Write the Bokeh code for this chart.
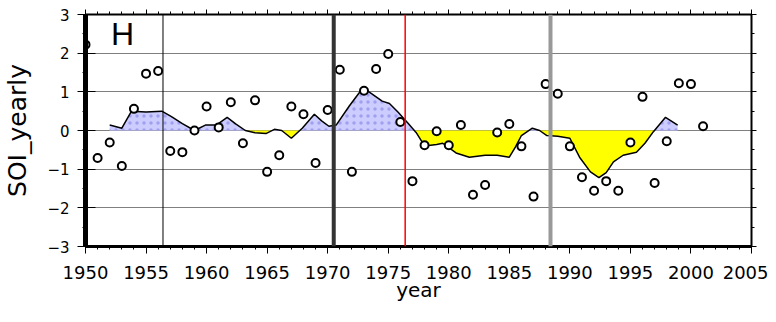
from bokeh.plotting import figure
from bokeh.models import (Range1d, LinearAxis, SingleIntervalTicker, Span, Label,
                          CustomJSTickFormatter)
from bokeh.embed import file_html
from bokeh.resources import INLINE
import numpy as np

# yearly SOI values (open circles)
years = list(range(1950, 2002))
soi = [2.22, -0.71, -0.31, -0.92, 0.56, 1.47, 1.54, -0.53, -0.56, 0.0,
       0.62, 0.08, 0.73, -0.33, 0.78, -1.07, -0.64, 0.62, 0.42, -0.84,
       0.53, 1.57, -1.07, 1.03, 1.59, 1.98, 0.22, -1.31, -0.38, -0.02,
       -0.38, 0.14, -1.66, -1.41, -0.05, 0.17, -0.41, -1.71, 1.2, 0.95,
       -0.41, -1.21, -1.56, -1.31, -1.56, -0.31, 0.87, -1.36, -0.28, 1.22,
       1.2, 0.11]

# smoothed curve
smooth_x = [1952.0, 1953.0, 1953.8, 1955.0, 1956.3, 1957.1, 1958.0, 1959.0, 1959.9,
            1960.8, 1961.7, 1962.4, 1963.2, 1964.0, 1964.9, 1965.6, 1966.2, 1967.0,
            1967.9, 1968.9, 1969.5, 1970.1, 1970.7, 1971.8, 1972.9, 1973.5, 1974.5,
            1975.1, 1975.8, 1976.6, 1977.3, 1978.0, 1979.0, 1979.5, 1980.6, 1981.7,
            1983.0, 1984.0, 1985.0, 1985.5, 1986.0, 1986.9, 1987.5, 1988.1, 1989.0,
            1990.0, 1990.8, 1991.7, 1992.4, 1993.0, 1993.6, 1994.4, 1995.5, 1996.2,
            1996.9, 1997.9, 1998.9]
smooth_y = [0.14, 0.06, 0.50, 0.48, 0.50, 0.36, 0.18, 0.0, 0.14,
            0.14, 0.34, 0.17, 0.0, -0.06, -0.08, 0.03, 0.0, -0.2,
            0.06, 0.42, 0.25, 0.11, 0.14, 0.64, 1.1, 0.98, 0.76,
            0.7, 0.48, 0.2, -0.05, -0.4, -0.36, -0.33, -0.58, -0.69,
            -0.64, -0.64, -0.69, -0.43, -0.13, 0.06, 0.0, -0.13, -0.15,
            -0.2, -0.69, -1.07, -1.22, -1.09, -0.81, -0.64, -0.56, -0.33,
            -0.03, 0.34, 0.14]

# vertical marker lines (years)
line_years = [1956.4, 1970.5, 1976.4, 1988.4]
line_colors = ["black", "#333333", "red", "#999999"]
line_widths = [1, 4, 1.5, 4]

x_ticks_interval = 5
y_ticks_interval = 1


def with_crossings(xs, ys):
    ox, oy = [xs[0]], [ys[0]]
    for i in range(1, len(xs)):
        y0, y1 = ys[i - 1], ys[i]
        if y0 * y1 < 0:
            t = y0 / (y0 - y1)
            ox.append(xs[i - 1] + t * (xs[i] - xs[i - 1]))
            oy.append(0.0)
        ox.append(xs[i])
        oy.append(ys[i])
    return np.array(ox), np.array(oy)


cx, cy = with_crossings(smooth_x, smooth_y)
pos = np.maximum(cy, 0)
neg = np.minimum(cy, 0)

p = figure(frame_width=666, frame_height=232,
           x_range=Range1d(1950, 2005), y_range=Range1d(-3, 3),
           output_backend="svg", toolbar_location=None,
           min_border_left=77, min_border_right=17,
           min_border_top=14, min_border_bottom=60)
p.outline_line_color = "black"
p.background_fill_color = "white"
p.border_fill_color = "white"

p.xgrid.visible = False
p.ygrid.grid_line_color = "#808080"
p.ygrid.grid_line_width = 1
p.ygrid.ticker = SingleIntervalTicker(interval=1)

p.varea(x=cx, y1=0, y2=pos, fill_color="#ccccff",
        hatch_pattern="dot", hatch_color="#a0a0f0", hatch_scale=7, hatch_weight=1)
p.varea(x=cx, y1=neg, y2=0, fill_color="#ffff00")
p.line(smooth_x, smooth_y, line_color="black", line_width=1.5)

for ly, lc, lw in zip(line_years, line_colors, line_widths):
    p.add_layout(Span(location=ly, dimension="height", line_color=lc, line_width=lw))

p.scatter(years, soi, marker="circle", size=8, line_color="black",
          line_width=2, fill_color="white")

font = "DejaVu Sans"
xa = p.xaxis[0]
xa.ticker = SingleIntervalTicker(interval=x_ticks_interval, num_minor_ticks=5)
xa.axis_label = "year"
xa.axis_label_text_font = font
xa.axis_label_text_font_size = "20px"
xa.axis_label_text_font_style = "normal"
xa.axis_label_text_color = "black"
xa.axis_label_standoff = -4
xa.major_label_text_font = font
xa.major_label_text_font_size = "18px"
xa.major_label_text_color = "black"
xa.major_label_standoff = 12
xa.axis_line_width = 3
xa.major_tick_out = 7
xa.major_tick_in = 0
xa.minor_tick_out = 3
xa.minor_tick_in = 0

ya = p.yaxis[0]
ya.ticker = SingleIntervalTicker(interval=y_ticks_interval, num_minor_ticks=2)
ya.axis_label = "SOI_yearly"
ya.axis_label_text_font = font
ya.axis_label_text_font_size = "25px"
ya.axis_label_text_font_style = "normal"
ya.axis_label_text_color = "black"
ya.axis_label_standoff = 12
ya.major_label_text_font = font
ya.major_label_text_font_size = "15px"
ya.major_label_text_color = "black"
ya.major_label_standoff = 8
ya.axis_line_width = 5
ya.major_tick_out = 8
ya.major_tick_in = 10
ya.minor_tick_out = 3
ya.minor_tick_in = 0

for loc in ["above", "right"]:
    if loc == "above":
        ax = LinearAxis(ticker=SingleIntervalTicker(interval=x_ticks_interval, num_minor_ticks=5))
    else:
        ax = LinearAxis(ticker=SingleIntervalTicker(interval=y_ticks_interval, num_minor_ticks=2))
    ax.formatter = CustomJSTickFormatter(code="return '';")
    ax.major_label_standoff = 0
    ax.axis_line_width = 2
    ax.major_tick_out = 5
    ax.major_tick_in = 0
    ax.minor_tick_out = 3
    ax.minor_tick_in = 0
    p.add_layout(ax, loc)

p.add_layout(Label(x=1952.1, y=2.5, text="H", text_font="Liberation Sans",
                   text_font_size="32px", text_baseline="alphabetic",
                   text_color="black"))

open("out.html", "w").write(file_html(p, INLINE))
